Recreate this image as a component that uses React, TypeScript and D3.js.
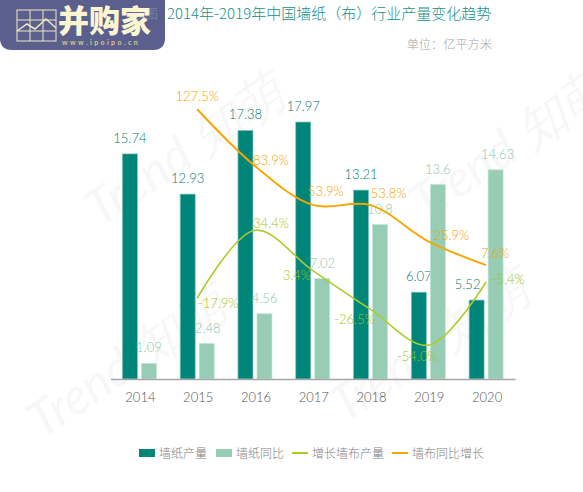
import React, { useRef, useEffect } from "react";
import * as d3 from "d3";

const years = ["2014", "2015", "2016", "2017", "2018", "2019", "2020"];
const wallpaperOutput = [15.74, 12.93, 17.38, 17.97, 13.21, 6.07, 5.52];
const wallpaperYoy = [1.09, 2.48, 4.56, 7.02, 10.8, 13.6, 14.63];
const lineYears = ["2015", "2016", "2017", "2018", "2019", "2020"];
const clothGrowth = [-17.9, 34.4, 3.4, -26.5, -54.0, -5.4];
const clothYoy = [127.5, 83.9, 53.9, 53.8, 25.9, 7.6];

// label offsets from their points, the chart nudges them by hand
const growthLabelOffset = [[21, 10], [16, -2], [-16, 9], [-16, 15], [-11, 16], [22, 2]];
const yoyLabelOffset = [[0, -8], [16, -1], [13, -9], [18, -7], [23, -1], [9, -7]];
const outputLabelNudge = [0, 0, 0, 0, 0, 0, -9];
const yoyBarLabelNudge = [0, 1, 0, 0, 0, 0, 2];

const legendItems = [
  { label: "墙纸产量", color: "#00857a", type: "bar", x: 139 },
  { label: "墙纸同比", color: "#98cdb5", type: "bar", x: 216 },
  { label: "增长墙布产量", color: "#aecb2b", type: "line", x: 292 },
  { label: "墙布同比增长", color: "#f7a600", type: "line", x: 392 },
];

const watermarks = [
  { x: 100, y: 228 },
  { x: 42, y: 440 },
  { x: 345, y: 424 },
  { x: 425, y: 222 },
  { x: -225, y: 240 },
];

const font = "'Noto Sans CJK SC', 'Noto Sans', sans-serif";
const numFont = "Lato, 'Open Sans', sans-serif";

const App = () => {
  const svgRef = useRef<SVGSVGElement>(null);

  useEffect(() => {
    const svg = d3.select(svgRef.current);
    svg.selectAll("*").remove();

    const x = d3.scaleBand().domain(years).range([110.5, 515]);
    const y = d3.scaleLinear().domain([0, 20]).range([379, 93]);
    const y2 = d3.scaleLinear().domain([-80, 140]).range([379, 93]);
    const barW = 15;
    const barGap = 4;

    // watermark goes first so the marks sit on it
    svg.append("g")
      .selectAll("text")
      .data(watermarks)
      .enter()
      .append("text")
      .attr("transform", (d) => `translate(${d.x},${d.y}) rotate(-34)`)
      .attr("font-family", "Lato, sans-serif")
      .attr("font-size", 50)
      .attr("font-style", "italic")
      .attr("font-weight", 400)
      .attr("fill", "#d0d0d0")
      .attr("opacity", 0.16)
      .text("Trend 知萌");

    // bars
    const groups = [
      { values: wallpaperOutput, color: "#00857a", edge: "#7fc4bb", text: "#007a70", nudge: outputLabelNudge, dx: -(barW + barGap) / 2 },
      { values: wallpaperYoy, color: "#98cdb5", edge: "#c5e4d6", text: "#8cc8ad", nudge: yoyBarLabelNudge, dx: (barW + barGap) / 2 },
    ];
    groups.forEach((g) => {
      svg.append("g")
        .selectAll("rect")
        .data(g.values)
        .enter()
        .append("rect")
        .attr("x", (d, i) => x(years[i]) + x.bandwidth() / 2 + g.dx - barW / 2)
        .attr("y", (d) => y(d))
        .attr("width", barW)
        .attr("height", (d) => y(0) - y(d))
        .attr("fill", g.color)
        .attr("stroke", g.edge)
        .attr("stroke-width", 0.7);

      svg.append("g")
        .selectAll("text")
        .data(g.values)
        .enter()
        .append("text")
        .attr("x", (d, i) => x(years[i]) + x.bandwidth() / 2 + g.dx + g.nudge[i])
        .attr("y", (d) => y(d) - 11)
        .attr("text-anchor", "middle")
        .attr("font-family", numFont)
        .attr("font-size", 13)
        .attr("font-weight", 300)
        .attr("fill", g.text)
        .text((d) => d);
    });

    // axis
    const axis = svg.append("g")
      .attr("transform", "translate(0,379)")
      .call(d3.axisBottom(x).tickSize(0).tickPadding(14));
    axis.select(".domain").attr("stroke", "#a6a6a6").attr("stroke-width", 1.5);
    axis.selectAll("text")
      .attr("font-family", numFont)
      .attr("font-size", 13)
      .attr("font-weight", 300)
      .attr("fill", "#555")
      .attr("dx", 1);

    // lines
    const lineX = (i: number) => x(lineYears[i]) + x.bandwidth() / 2;
    const lines = [
      { values: clothGrowth, color: "#aecb2b", text: "#a3c414", width: 1.6, offsets: growthLabelOffset },
      { values: clothYoy, color: "#f7a600", text: "#f5a000", width: 1.9, offsets: yoyLabelOffset },
    ];
    lines.forEach((l) => {
      const line = d3.line<number>()
        .x((d, i) => lineX(i))
        .y((d) => y2(d))
        .curve(d3.curveCatmullRom.alpha(0.5));
      svg.append("path")
        .datum(l.values)
        .attr("fill", "none")
        .attr("stroke", l.color)
        .attr("stroke-width", l.width)
        .attr("d", line);

      svg.append("g")
        .selectAll("text")
        .data(l.values)
        .enter()
        .append("text")
        .attr("x", (d, i) => lineX(i) + l.offsets[i][0])
        .attr("y", (d, i) => y2(d) + l.offsets[i][1])
        .attr("text-anchor", "middle")
        .attr("font-family", numFont)
        .attr("font-size", 13)
        .attr("font-weight", 300)
        .attr("fill", l.text)
        .text((d) => `${d.toFixed(1)}%`);
    });

    // title
    svg.append("text")
      .attr("x", 167)
      .attr("y", 19)
      .attr("font-family", font)
      .attr("font-size", 15)
      .attr("font-weight", 300)
      .attr("fill", "#17908a")
      .text("2014年-2019年中国墙纸（布）行业产量变化趋势");
    svg.append("text")
      .attr("x", 492)
      .attr("y", 49)
      .attr("text-anchor", "end")
      .attr("font-family", font)
      .attr("font-size", 12.2)
      .attr("font-weight", 300)
      .attr("fill", "#a6a6a6")
      .text("单位：亿平方米");

    // legend
    const legend = svg.append("g")
      .selectAll("g")
      .data(legendItems)
      .enter()
      .append("g")
      .attr("transform", (d) => `translate(${d.x},453)`);
    legend.filter((d) => d.type === "bar")
      .append("rect")
      .attr("y", -4)
      .attr("width", 16)
      .attr("height", 8)
      .attr("fill", (d) => d.color);
    legend.filter((d) => d.type === "line")
      .append("line")
      .attr("x2", 16)
      .attr("stroke", (d) => d.color)
      .attr("stroke-width", 2);
    legend.append("text")
      .attr("x", 20)
      .attr("y", 4.5)
      .attr("font-family", font)
      .attr("font-size", 12)
      .attr("font-weight", 300)
      .attr("fill", "#808080")
      .text((d) => d.label);

    // logo
    const logo = svg.append("g");
    logo.append("path")
      .attr("d", "M0,0H165V38Q165,50 153,50H12Q0,50 0,38Z")
      .attr("fill", "#5a5f8e");
    logo.append("text")
      .attr("x", 132)
      .attr("y", 18)
      .attr("font-family", font)
      .attr("font-size", 13)
      .attr("fill", "#6f7fa0")
      .text("数图");
    const grid = logo.append("g")
      .attr("fill", "none")
      .attr("stroke", "#efe9c4")
      .attr("stroke-width", 1);
    grid.append("rect").attr("x", 17).attr("y", 10).attr("width", 39).attr("height", 31);
    [30, 43].forEach((gx) => grid.append("line").attr("x1", gx).attr("x2", gx).attr("y1", 10).attr("y2", 41));
    [20, 31].forEach((gy) => grid.append("line").attr("x1", 17).attr("x2", 56).attr("y1", gy).attr("y2", gy));
    grid.append("path").attr("d", "M17,31L27,24L35,29L46,19L56,28").attr("stroke-width", 1.5);
    logo.append("text")
      .attr("x", 58)
      .attr("y", 32)
      .attr("font-family", font)
      .attr("font-size", 31)
      .attr("font-weight", 900)
      .attr("fill", "#fbf6d0")
      .text("并购家");
    logo.append("text")
      .attr("x", 62)
      .attr("y", 45)
      .attr("font-family", numFont)
      .attr("font-size", 7)
      .attr("font-weight", 700)
      .attr("letter-spacing", 2.4)
      .attr("fill", "#d9c88a")
      .text("www.ipoipo.cn");
  }, []);

  return (
    <svg
      ref={svgRef}
      width={583}
      height={492}
      style={{ position: "absolute", left: 0, top: 0, background: "#fff" }}
    />
  );
};

export default App;
